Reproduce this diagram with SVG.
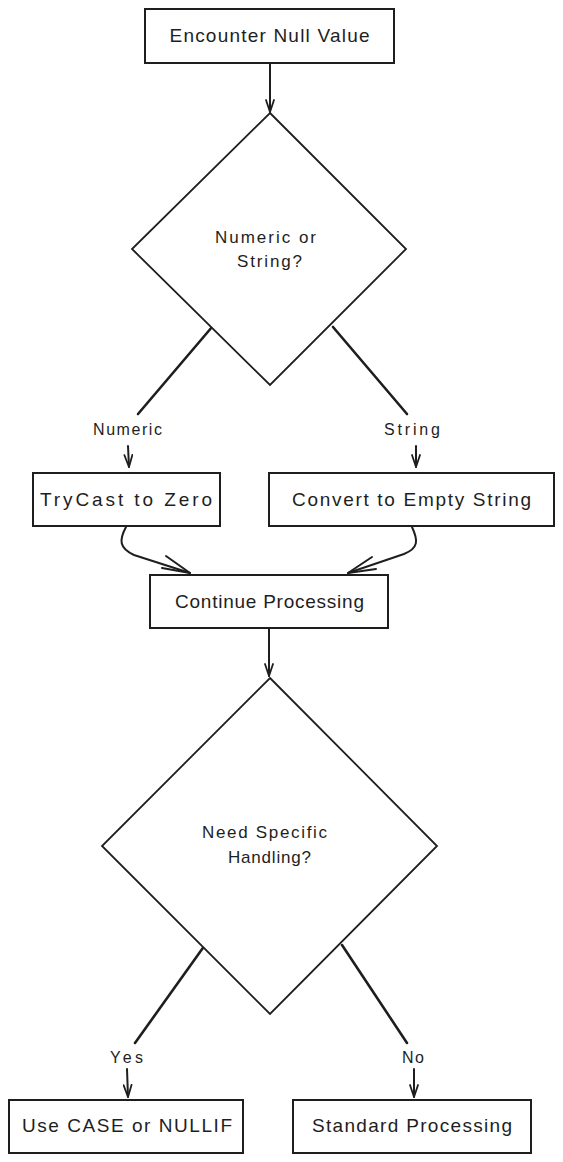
<svg xmlns="http://www.w3.org/2000/svg" width="563" height="1162" viewBox="0 0 563 1162">
<defs>
<style>
.box{fill:#fff;stroke:#1e1e1e;stroke-width:2}
.dia{fill:#fff;stroke:#1e1e1e;stroke-width:1.8}
.t{font-family:"Liberation Sans","DejaVu Sans",sans-serif;fill:#1e1e1e;text-anchor:middle}
.tb{font-size:19px}
.tl{font-size:16px}
.td{font-size:17px}
.c{fill:none;stroke:#1e1e1e;stroke-width:2;stroke-linecap:round;stroke-linejoin:round}
.ct{fill:none;stroke:#1e1e1e;stroke-width:2.6;stroke-linecap:round}
</style>
<marker id="ah" viewBox="0 0 14 10" refX="13" refY="5" markerWidth="14" markerHeight="10" markerUnits="userSpaceOnUse" orient="auto">
<path d="M1,1 L13,5 L1,9" fill="none" stroke="#1e1e1e" stroke-width="1.8" stroke-linecap="round" stroke-linejoin="round"/>
</marker>
</defs>
<g id="connectors">
<line class="c" x1="270" y1="63" x2="270" y2="112" marker-end="url(#ah)"/>
<line class="ct" x1="212" y1="327" x2="138" y2="414"/>
<line class="c" x1="128" y1="446" x2="129" y2="467" marker-end="url(#ah)"/>
<line class="ct" x1="333" y1="327" x2="407" y2="414"/>
<line class="c" x1="416" y1="446" x2="416" y2="467" marker-end="url(#ah)"/>
<path class="c" d="M126,527 C119,540 119,548 134,555 L190,573"/>
<path class="c" d="M166,556 L190,573 L162,568"/>
<path class="c" d="M412,527 C418,540 419,548 404,554 L348,573"/>
<path class="c" d="M372,557 L348,573 L376,569"/>
<line class="c" x1="269" y1="628" x2="269" y2="676" marker-end="url(#ah)"/>
<line class="ct" x1="205" y1="945" x2="135" y2="1043"/>
<line class="c" x1="127" y1="1069" x2="128" y2="1097" marker-end="url(#ah)"/>
<line class="ct" x1="342" y1="945" x2="407" y2="1043"/>
<line class="c" x1="414" y1="1069" x2="414" y2="1097" marker-end="url(#ah)"/>
<text class="t tl" x="127.5" y="435" textLength="69" lengthAdjust="spacing">Numeric</text>
<text class="t tl" x="412" y="435" textLength="56" lengthAdjust="spacing">String</text>
<text class="t tl" x="126.5" y="1063" textLength="33" lengthAdjust="spacing">Yes</text>
<text class="t tl" x="413" y="1063" textLength="22" lengthAdjust="spacing">No</text>
</g>
<g id="encounter">
<rect class="box" x="145" y="9" width="249" height="54"/>
<text class="t tb" x="269.5" y="42" textLength="200" lengthAdjust="spacing">Encounter Null Value</text>
</g>
<g id="decision1">
<polygon class="dia" points="270,113 406,249 270,385 132,249"/>
<text class="t td" x="265.5" y="243" textLength="101" lengthAdjust="spacing">Numeric or</text>
<text class="t td" x="269.5" y="267" textLength="65" lengthAdjust="spacing">String?</text>
</g>
<g id="trycast">
<rect class="box" x="33" y="473" width="187" height="53"/>
<text class="t tb" x="126" y="506" textLength="172" lengthAdjust="spacing">TryCast to Zero</text>
</g>
<g id="convert">
<rect class="box" x="269" y="473" width="285" height="53"/>
<text class="t tb" x="411.5" y="506" textLength="239" lengthAdjust="spacing">Convert to Empty String</text>
</g>
<g id="continue">
<rect class="box" x="150" y="575" width="238" height="53"/>
<text class="t tb" x="269.5" y="608" textLength="189" lengthAdjust="spacing">Continue Processing</text>
</g>
<g id="decision2">
<polygon class="dia" points="270,678 437,846 270,1014 102,846"/>
<text class="t td" x="264.5" y="838" textLength="125" lengthAdjust="spacing">Need Specific</text>
<text class="t td" x="269.5" y="863" textLength="83" lengthAdjust="spacing">Handling?</text>
</g>
<g id="usecase">
<rect class="box" x="9" y="1100" width="234" height="53"/>
<text class="t tb" x="127" y="1132" textLength="210" lengthAdjust="spacing">Use CASE or NULLIF</text>
</g>
<g id="standard">
<rect class="box" x="293" y="1100" width="238" height="53"/>
<text class="t tb" x="412" y="1132" textLength="200" lengthAdjust="spacing">Standard Processing</text>
</g>
</svg>
